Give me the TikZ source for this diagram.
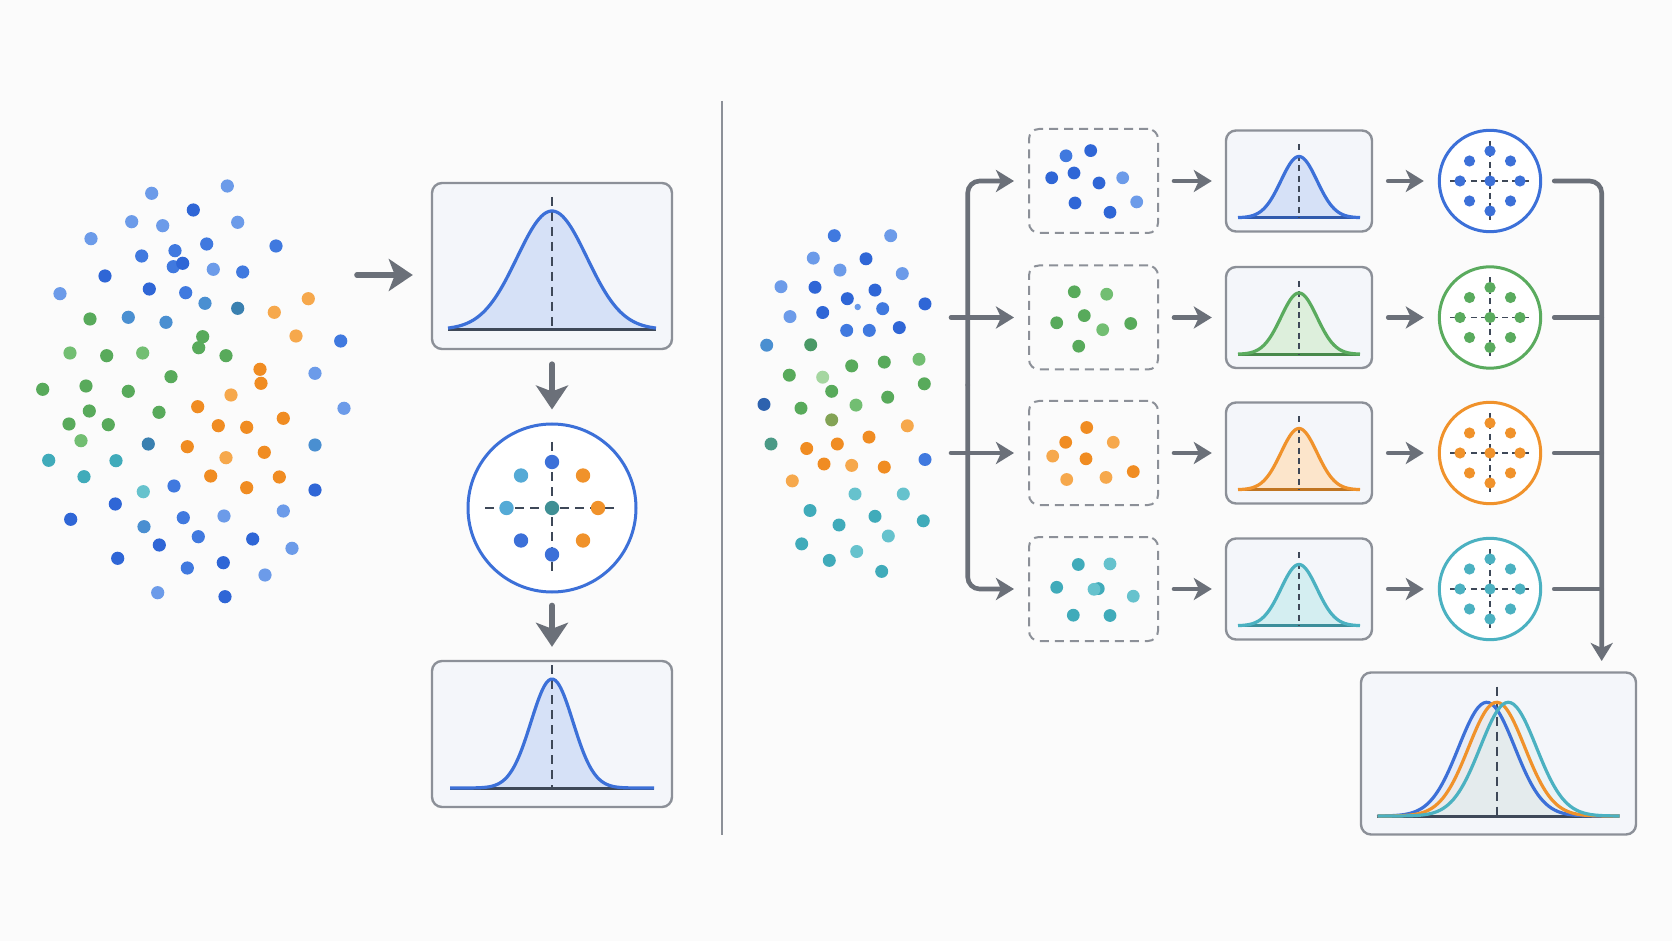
\documentclass[tikz,border=0pt]{standalone}
\usetikzlibrary{arrows.meta}
\definecolor{bg}{HTML}{FBFBFB}
\definecolor{agray}{HTML}{6B7079}
\definecolor{slate}{HTML}{3E4858}
\definecolor{boxfill}{HTML}{F4F6FA}
\definecolor{boxline}{HTML}{8C9098}
\definecolor{cblue}{HTML}{3C70D8}
\definecolor{cgreen}{HTML}{5AAB5E}
\definecolor{corange}{HTML}{F0922B}
\definecolor{cteal}{HTML}{4BB1C1}
\definecolor{fblue}{HTML}{D6E1F7}
\definecolor{fgreen}{HTML}{DDEFDC}
\definecolor{forange}{HTML}{FCE5CB}
\definecolor{fteal}{HTML}{D4EEF1}
\definecolor{bD}{HTML}{2F66D6}
\definecolor{bM}{HTML}{4079DF}
\definecolor{bL}{HTML}{6C9BE9}
\definecolor{bS}{HTML}{4A8FD1}
\definecolor{sD}{HTML}{3A80B0}
\definecolor{bDk}{HTML}{2E62AE}
\definecolor{gM}{HTML}{58AA5B}
\definecolor{gL}{HTML}{72BE72}
\definecolor{gDk}{HTML}{4A9966}
\definecolor{gP}{HTML}{A5D6A0}
\definecolor{ol}{HTML}{83A355}
\definecolor{tg}{HTML}{4B9A86}
\definecolor{oD}{HTML}{F08C22}
\definecolor{oL}{HTML}{F6A84C}
\definecolor{tD}{HTML}{40ABBA}
\definecolor{tL}{HTML}{66C2CD}
\definecolor{cmix}{HTML}{3F8F94}
\definecolor{tB}{HTML}{55AAD6}
\newcommand{\bellfill}[6]{%
  \fill[#1] plot[domain=-#6:#6, samples=90, smooth] (\x, {#3-#4*exp(-0.5*((\x-(#2))/#5)*((\x-(#2))/#5))}) -- cycle;}
\newcommand{\bellline}[6]{%
  \draw[#1, line width=1.6pt, line join=round] plot[domain=-#6:#6, samples=90, smooth] (\x, {#3-#4*exp(-0.5*((\x-(#2))/#5)*((\x-(#2))/#5))});}
\tikzset{
  gbox/.style={draw=boxline, fill=boxfill, line width=1.2pt, rounded corners=5pt, inner sep=0pt},
  dbox/.style={draw=boxline, line width=1pt, dash pattern=on 4.5pt off 3pt, rounded corners=5pt, inner sep=0pt},
  ring/.style={circle, line width=1.5pt, inner sep=0pt, fill=white},
  arr/.style={draw=agray, line width=2.3pt, line cap=round, -{Stealth[length=9pt,width=11pt,inset=2.5pt]}},
  bigarr/.style={draw=agray, line width=2.8pt, line cap=round, -{Stealth[length=12pt,width=16pt,inset=3pt]}},
  link/.style={draw=agray, line width=2.3pt, line cap=round},
  xdash/.style={slate, line width=1.1pt, dash pattern=on 4.5pt off 3pt},
  sdash/.style={slate, line width=0.9pt, dash pattern=on 3pt off 2.2pt},
  divider/.style={draw=boxline, line width=1pt}
}
\begin{document}
\begin{tikzpicture}[x=0.5pt,y=-0.5pt]
\fill[bg] (0,0) rectangle (1672,941);
\useasboundingbox (0,0) rectangle (1672,941);

% ---------- left cluster ----------
\foreach \px/\py/\c in {151.7/193.3/bL,227.3/186/bL,193.3/210/bD,131.7/221.7/bL,162.7/225.7/bL,237.7/222.3/bL,91/238.7/bL,206.7/244/bM,276/246/bM,141.7/256/bM,175/250.7/bM,173.3/266.7/bM,182.7/263.3/bD,213.3/269.3/bL,242.7/272/bM,105/276/bD,60/293.7/bL,149.3/289/bD,185.7/292.7/bM,205/303.3/bS,237.7/308.3/sD,274.3/312.3/oL,308.3/298.7/oL,90/319/gM,128.3/317.3/bS,166/322.3/bS,202.7/336.7/gM,198.7/347.7/gM,226/355.7/gM,296/336/oL,340.7/341/bM,70/353/gL,106.7/355.7/gM,142.7/353/gL,171/376.7/gM,260/369.3/oD,261/383.3/oD,315/373.3/bL,42.7/389.3/gM,86/386/gM,128.3/391.3/gM,231/395/oL,344/408.3/bL,89.3/411/gM,159/412.3/gM,197.7/406.7/oD,283.3/418.3/oD,69/424/gM,108.3/424.7/gM,218.3/425.7/oD,246.7/427.3/oD,81/440.7/gL,148.3/444/sD,315/445/bS,187.3/446.7/oD,226/457.7/oL,264.3/452.3/oD,48.7/460.3/tD,116/460.7/tD,84/476.7/tD,210.7/476/oD,279.3/477/oD,246.7/487.7/oD,143.3/491.7/tL,174/486/bM,315/490/bD,115.3/504/bD,70.7/519.3/bD,183.3/517.7/bM,224/516/bL,283.3/511/bL,144/526.7/bS,198.3/536.7/bM,159.3/545/bD,252.7/539/bD,292/548.3/bL,117.7/558.3/bD,187.3/568/bM,223.3/562.7/bD,265/575/bL,157.7/592.7/bL,225/596.7/bD}
  \fill[\c] (\px,\py) circle[radius=3.3pt];

% ---------- left pipeline ----------
\node[gbox, minimum width=120pt, minimum height=83pt] (gA) at (552,266) {};
\node[ring, draw=cblue, minimum size=84pt] (cA) at (552,508) {};
\node[gbox, minimum width=120pt, minimum height=73pt] (gB) at (552,734) {};
\coordinate (lcl) at (357,275);
\draw[bigarr, shorten >=9pt] (lcl) -- (gA.west |- lcl);
\draw[bigarr, shorten <=7pt, shorten >=6.5pt] (gA.south) -- (cA.north);
\draw[bigarr, shorten <=6pt, shorten >=6.5pt] (cA.south) -- (gB.north);

\begin{scope}[shift={(gA.center)}]
  \bellfill{fblue}{0}{63.5}{118.5}{35}{104}
  \draw[slate, line width=1.5pt] (-104,63.5) -- (104,63.5);
  \draw[xdash] (0,-69) -- (0,63.5);
  \bellline{cblue}{0}{63.5}{118.5}{35}{104}
\end{scope}
\begin{scope}[shift={(gB.center)}]
  \bellfill{fblue}{0}{54}{109}{21}{102}
  \draw[slate, line width=1.5pt] (-102,54) -- (102,54);
  \draw[xdash] (0,-69) -- (0,54);
  \bellline{cblue}{0}{54}{109}{21}{102}
\end{scope}
\begin{scope}[shift={(cA.center)}]
  \draw[xdash] (-67,0) -- (68,0);
  \draw[xdash] (0,-66) -- (0,66);
  \foreach \px/\py/\c in {0/-46/cblue,0/46.5/cblue,-45.5/0/tB,46/0/corange,0/0/cmix,-31/-32.5/tB,31/-32.5/corange,-31/32.5/cblue,31/32.5/corange}
    \fill[\c] (\px,\py) circle[radius=3.6pt];
\end{scope}

% divider
\coordinate (dtop) at (722,101);
\coordinate (dbot) at (722,835);
\draw[divider] (dtop) -- (dbot);

% ---------- right cluster ----------
\foreach \px/\py/\c in {834.3/235.7/bM,890.7/235.7/bL,813.3/258.1/bL,866/258.8/bD,840/270.1/bL,902.3/273.6/bL,781/286.7/bL,815/287.3/bD,875/290.1/bD,847.3/298.7/bD,882.7/308.7/bM,925/303.9/bD,790/316.6/bL,822.7/312.5/bD,846.7/330.4/bM,869.3/330.4/bM,899.3/327.6/bD,766.7/345.2/bS,810.7/344.8/gDk,851.7/365.9/gM,884.3/362.1/gM,919/359.3/gL,789.3/375.2/gM,822.7/377.2/gP,924.3/383.8/gM,831.7/391.3/gM,887.7/397.2/gM,764/404.4/bDk,801/408.2/gM,856/405.1/gL,831.7/419.9/ol,907.3/425.8/oL,771/444/tg,806.7/448.5/oD,837.3/444/oD,869/437.1/oD,925/459.5/bM,851.7/465.4/oL,884.3/467.1/oD,792.3/480.9/oL,824/464/oD,855/494/tL,903.3/494/tL,810/510.5/tD,875/516.3/tD,839/525/tD,923.3/520.8/tD,888.3/536/tL,801.7/543.9/tD,856.7/551.5/tL,829.3/560.4/tD,881.7/571.4/tD}
  \fill[\c] (\px,\py) circle[radius=3.25pt];
\fill[bL] (857.7,307) circle[radius=1.6pt];

% ---------- right pipeline ----------
\foreach \i/\yy in {1/181,2/317.5,3/453,4/589}{
  \node[dbox, minimum width=64.5pt, minimum height=52pt] (d\i) at (1093.5,\yy) {};
  \node[gbox, minimum width=73pt, minimum height=50.5pt] (g\i) at (1299,\yy) {};
}
\node[ring, draw=cblue, minimum size=50.7pt] (c1) at (1490,181) {};
\node[ring, draw=cgreen, minimum size=50.7pt] (c2) at (1490,317.5) {};
\node[ring, draw=corange, minimum size=50.7pt] (c3) at (1490,453) {};
\node[ring, draw=cteal, minimum size=50.7pt] (c4) at (1490,589) {};
\node[gbox, minimum width=137.5pt, minimum height=81pt] (fin) at (1498.5,753.5) {};

% dots in dashed boxes
\foreach \px/\py/\c in {1066/155.8/bM,1090.7/150.6/bD,1051.7/177.8/bD,1074/173/bD,1099/183/bD,1122.7/177.8/bL,1075/203/bD,1110/212.3/bD,1136.7/201.9/bL,
  1074.3/291.8/gM,1106.7/294.2/gL,1056.7/322.8/gM,1084.3/315.6/gM,1130.7/323.5/gM,1102.7/329.7/gL,1078.7/346.2/gM,
  1086.7/427.5/oD,1065.7/442.3/oD,1113.3/442.3/oL,1052.7/456.1/oL,1086/458.8/oD,1133.3/471.6/oD,1066.7/479.5/oL,1106/477.4/oL,
  1078.3/564.5/tD,1110/563.9/tL,1056.7/587.3/tD,1098.3/588.6/tD,1094/589.3/tL,1133.3/596.2/tL,1073.3/615.2/tD,1110/615.5/tD}
  \fill[\c] (\px,\py) circle[radius=3.2pt];

% connectors
\coordinate (r1) at (951,317.5);
\coordinate (r2) at (951,453);
\coordinate (split) at (967.7,385);
\draw[arr, rounded corners=6pt, shorten >=7pt] (split) |- (d1.west);
\draw[arr, rounded corners=6pt, shorten >=7pt] (split) |- (d4.west);
\draw[arr, shorten >=7pt] (r1) -- (d2.west);
\draw[arr, shorten >=7pt] (r2) -- (d3.west);
\foreach \i in {1,2,3,4}{
  \draw[arr, shorten <=7.5pt, shorten >=6.5pt] (d\i.east) -- (g\i.west);
  \draw[arr, shorten <=7.5pt, shorten >=7pt] (g\i.east) -- (c\i.west);
}
\coordinate (finin) at (1601.7,661);
\draw[arr, rounded corners=6pt, shorten <=6pt] (c1.east) -| (finin);
\foreach \i in {2,3,4}
  \draw[link, shorten <=6pt] (c\i.east) -- (c\i.east -| finin);

% small gaussians
\foreach \i/\cc/\ff in {1/cblue/fblue,2/cgreen/fgreen,3/corange/forange,4/cteal/fteal}{
  \begin{scope}[shift={(g\i.center)}]
    \bellfill{\ff}{0}{36.8}{61.3}{18}{61}
    \draw[\cc!80!black, line width=1.4pt] (-61,36.8) -- (61,36.8);
    \draw[sdash] (0,-36.6) -- (0,36.8);
    \bellline{\cc}{0}{36.8}{61.3}{18}{61}
  \end{scope}
  \begin{scope}[shift={(c\i.center)}]
    \draw[sdash] (-40,0) -- (40,0);
    \draw[sdash] (0,-40) -- (0,40);
    \foreach \px/\py in {0/-30,0/30,-30/0,30/0,0/0,-20.5/-20,20.5/-20,-20.5/20,20.5/20}
      \fill[\cc] (\px,\py) circle[radius=2.8pt];
  \end{scope}
}

% final gaussian
\begin{scope}[shift={(fin.center)}]
  \bellfill{fblue,opacity=0.45}{-11.8}{62.5}{113.7}{28}{121}
  \bellfill{forange,opacity=0.25}{-1.8}{62.5}{113.7}{28}{121}
  \bellfill{fteal,opacity=0.3}{9.8}{62.5}{113.7}{28}{121}
  \draw[slate, line width=1.5pt] (-121.8,62.5) -- (120.8,62.5);
  \draw[xdash] (-1.2,-66.8) -- (-1.2,62.5);
  \bellline{cblue}{-11.8}{62.5}{113.7}{28}{121}
  \bellline{corange}{-1.8}{62.5}{113.7}{28}{121}
  \bellline{cteal}{9.8}{62.5}{113.7}{28}{121}
\end{scope}
\end{tikzpicture}
\end{document}
